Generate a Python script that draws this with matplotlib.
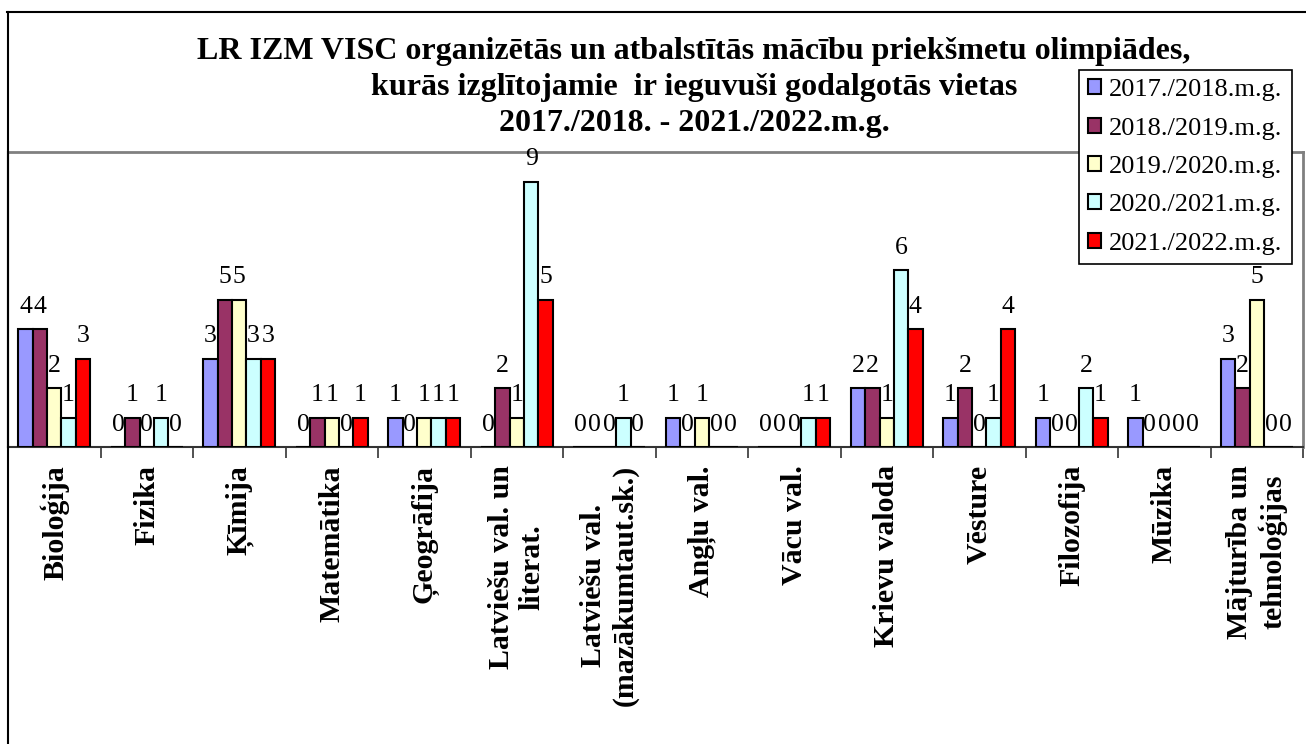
import numpy as np
import matplotlib
matplotlib.use("Agg")
import matplotlib.pyplot as plt
from matplotlib.lines import Line2D

# chart data
subjects = [
    "Bioloģija", "Fizika", "Ķīmija", "Matemātika", "Ģeogrāfija",
    "Latviešu val. un\nliterat.", "Latviešu val.\n(mazākumtaut.sk.)",
    "Angļu val.", "Vācu val.", "Krievu valoda", "Vēsture",
    "Filozofija", "Mūzika", "Mājturība un\ntehnoloģijas",
]
years = ["2017./2018.m.g.", "2018./2019.m.g.", "2019./2020.m.g.",
         "2020./2021.m.g.", "2021./2022.m.g."]
y2017 = [4, 0, 3, 0, 1, 0, 0, 1, 0, 2, 1, 1, 1, 3]
y2018 = [4, 1, 5, 1, 0, 2, 0, 0, 0, 2, 2, 0, 0, 2]
y2019 = [2, 0, 5, 1, 1, 1, 0, 1, 0, 1, 0, 0, 0, 5]
y2020 = [1, 1, 3, 0, 1, 9, 1, 0, 1, 6, 1, 2, 0, 0]
y2021 = [3, 0, 3, 1, 1, 5, 0, 0, 1, 4, 4, 1, 0, 0]
colors = ["#9999FF", "#993366", "#FFFFCC", "#CCFFFF", "#FF0000"]

title_lines = ["LR IZM VISC organizētās un atbalstītās mācību priekšmetu olimpiādes,",
               "kurās izglītojamie  ir ieguvuši godalgotās vietas",
               "2017./2018. - 2021./2022.m.g."]

plt.rcParams['font.family'] = ['Liberation Serif', 'DejaVu Serif']

W, H = 1306, 744
fig = plt.figure(figsize=(W / 100, H / 100), dpi=100)
ax = fig.add_axes([8 / W, 1 - 447 / H, (1303 - 8) / W, (447 - 152) / H])

series = [y2017, y2018, y2019, y2020, y2021]
x = np.arange(len(subjects))
bw = 0.155
for i, (vals, col) in enumerate(zip(series, colors)):
    pos = x + (i - 2) * bw
    ax.bar(pos, vals, width=bw, color=col, edgecolor='black', linewidth=1.5, zorder=3)
    for px, v in zip(pos, vals):
        ax.annotate(str(v), (px, v), xytext=(0, 8), textcoords='offset points',
                    ha='center', va='bottom', fontsize=18.5, zorder=4)

ax.set_xlim(-0.5, len(subjects) - 0.5)
ax.set_ylim(0, 10)
ax.set_yticks([])

ax.set_xticks(x)
ax.set_xticklabels(subjects, rotation=90, fontsize=21.5, fontweight='bold',
                   va='top', ha='center', multialignment='center')
ax.tick_params(axis='x', which='major', length=0, pad=13)
ax.set_xticks(np.arange(len(subjects) + 1) - 0.5, minor=True)
ax.tick_params(axis='x', which='minor', length=8, width=1.2, direction='out', color='#333333')

for s in ['top', 'right']:
    ax.spines[s].set_color('#808080')
    ax.spines[s].set_linewidth(2)
ax.spines['left'].set_color('black')
ax.spines['left'].set_linewidth(1.5)
ax.spines['bottom'].set_color('#333333')
ax.spines['bottom'].set_linewidth(1.5)

for line, ypix in zip(title_lines, [52, 88, 124]):
    fig.text(694 / W, 1 - ypix / H, line, ha='center', va='center',
             fontsize=23, fontweight='bold')

# outer chart border (left and top visible)
fig.add_artist(Line2D([7.5 / W, 7.5 / W], [0, 1 - 12 / H], color='black', lw=1.5,
                      transform=fig.transFigure))
fig.add_artist(Line2D([7 / W, 1], [1 - 12 / H, 1 - 12 / H], color='black', lw=1.5,
                      transform=fig.transFigure))

handles = [plt.Rectangle((0, 0), 1, 1, facecolor=c, edgecolor='black', linewidth=1.5)
           for c in colors]
leg = fig.legend(handles, years, loc='upper left', bbox_to_anchor=(1079 / W, 1 - 70 / H),
                 borderaxespad=0, fontsize=19, frameon=True, fancybox=False,
                 edgecolor='black', framealpha=1, handlelength=0.5, handleheight=0.5,
                 handletextpad=0.3, labelspacing=0.62, borderpad=0.35)
leg.get_frame().set_linewidth(1.2)

fig.savefig("out.png", dpi=100)
